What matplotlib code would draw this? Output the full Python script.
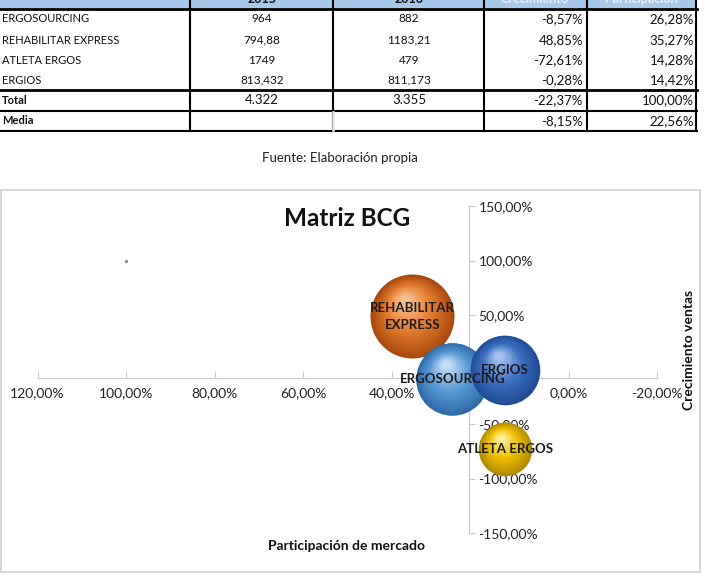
import numpy as np
import matplotlib
matplotlib.use("Agg")
import matplotlib.pyplot as plt
from matplotlib.lines import Line2D
from matplotlib.patches import Rectangle
from matplotlib.transforms import offset_copy
from matplotlib.colors import to_rgb

plt.rcParams['font.family'] = ['Lato', 'DejaVu Sans']

# table data
names = ["ERGOSOURCING", "REHABILITAR EXPRESS", "ATLETA ERGOS", "ERGIOS"]
ventas_2015 = ["964", "794,88", "1749", "813,432"]
ventas_2016 = ["882", "1183,21", "479", "811,173"]
crecimiento_txt = ["-8,57%", "48,85%", "-72,61%", "-0,28%"]
participacion_txt = ["26,28%", "35,27%", "14,28%", "14,42%"]
total_row = ["Total", "4.322", "3.355", "-22,37%", "100,00%"]
media_row = ["Media", "", "", "-8,15%", "22,56%"]
headers = ["", "2015", "2016", "Crecimiento", "Participación"]

# chart data (values in %)
labels = ["ERGOSOURCING", "REHABILITAR\nEXPRESS", "ATLETA ERGOS", "ERGIOS"]
participacion = [26.28, 35.27, 14.28, 14.42]
crecimiento = [-8.57, 48.85, -72.61, -0.28]
ventas16 = [882, 1183.21, 479, 811.173]
media_part = 22.56
media_crec = -8.15
stray_point = (100, 100)

# colors: (dark, base, light)
bubble_cols = [
    ("#2f6aa8", "#5b9bd5", "#c4ddf4"),
    ("#a8480c", "#e67d30", "#f9c08e"),
    ("#b08a00", "#f0c000", "#fff1a0"),
    ("#1f4c95", "#3f72c4", "#a9c4ee"),
]

W, H = 705, 580
fig = plt.figure(figsize=(W / 100, H / 100), dpi=100)


def fx(x):
    return x / W


def fy(y):
    return 1 - y / H


# ---- table ----
col_edges = [0, 190, 333, 484, 587, 696]
fig.patches.append(Rectangle((fx(0), fy(8)), fx(696), 8 / H + 0.02,
                             transform=fig.transFigure, facecolor="#a6c8ea",
                             edgecolor="none", zorder=-2))
row_y = [19, 40, 60, 80]
txt = dict(va="center", color="#111")
for i in range(4):
    y = fy(row_y[i])
    fig.text(fx(2), y, names[i], fontsize=8, ha="left", **txt)
    fig.text(fx(262), y, ventas_2015[i], fontsize=8.5, ha="center", **txt)
    fig.text(fx(409), y, ventas_2016[i], fontsize=8.5, ha="center", **txt)
    fig.text(fx(583), y, crecimiento_txt[i], fontsize=9.5, ha="right", **txt)
    fig.text(fx(694), y, participacion_txt[i], fontsize=9.5, ha="right", **txt)

for row, yy in [(total_row, 100), (media_row, 121)]:
    y = fy(yy)
    fig.text(fx(2), y, row[0], fontsize=8, fontweight="bold", ha="left", **txt)
    fig.text(fx(262), y, row[1], fontsize=9.5, ha="center", **txt)
    fig.text(fx(409), y, row[2], fontsize=9.5, ha="center", **txt)
    fig.text(fx(583), y, row[3], fontsize=9.5, ha="right", **txt)
    fig.text(fx(694), y, row[4], fontsize=9.5, ha="right", **txt)

hdr_cols = ["#111", "#111", "#111", "#e9eff8", "#e9eff8"]
hdr_x = [95, 262, 409, 535, 641]
for i, h in enumerate(headers):
    fig.text(fx(hdr_x[i]), fy(-1), h, fontsize=9, fontweight="bold",
             va="center", ha="center", color=hdr_cols[i])


def hline(x0, x1, y, lw=1.5, c="black"):
    fig.add_artist(Line2D([fx(x0), fx(x1)], [fy(y), fy(y)], lw=lw, color=c,
                          transform=fig.transFigure))


def vline(x, y0, y1, lw=1.5, c="black"):
    fig.add_artist(Line2D([fx(x), fx(x)], [fy(y0), fy(y1)], lw=lw, color=c,
                          transform=fig.transFigure))


hline(0, 697, 8.5, lw=2)
hline(0, 697, 89.5, lw=2)
hline(0, 697, 110.5, lw=1.5)
hline(0, 697, 131, lw=1.5)
for x in col_edges[1:]:
    vline(x, 0, 131, lw=1.5)
vline(333, 111.5, 130, lw=1.8, c="#e6e6e6")

fig.text(fx(340), fy(158), "Fuente: Elaboración propia", fontsize=9.5,
         ha="center", va="center", color="#222")

# chart frame
fig.patches.append(Rectangle((fx(1), fy(572)), fx(699), (572 - 190) / H,
                             transform=fig.transFigure, facecolor="white",
                             edgecolor="#d0d0d0", lw=1.2, zorder=-1))

# ---- chart ----
ax = fig.add_axes([fx(37.5), fy(533), fx(657) - fx(37.5), fy(206) - fy(533)])
ax.set_zorder(2)
ax.set_facecolor("none")
ax.set_xlim(120, -20)
ax.set_ylim(-150, 150)

for s in ["top", "left"]:
    ax.spines[s].set_visible(False)
ax.spines["right"].set_position(("data", media_part))
ax.spines["bottom"].set_position(("data", media_crec))
ax.spines["right"].set_color("#c8c8c8")
ax.spines["bottom"].set_color("#c8c8c8")
ax.yaxis.tick_right()
ax.set_xticks(np.arange(120, -21, -20))
ax.set_yticks([-150, -100, -50, 50, 100, 150])
ax.set_xticklabels([f"{v:.2f}%".replace(".", ",") for v in ax.get_xticks()])
ax.set_yticklabels([f"{v:.2f}%".replace(".", ",") for v in ax.get_yticks()])
ax.tick_params(axis="x", direction="in", length=5, color="#c8c8c8",
               labelsize=10, labelcolor="#222", pad=6)
ax.tick_params(axis="y", direction="out", length=4, color="#c8c8c8",
               labelsize=10, labelcolor="#222", pad=3)


def blend(c1, c2, t):
    a, b = np.array(to_rgb(c1)), np.array(to_rgb(c2))
    return tuple(a + (b - a) * t)


max_r_pt = 42 * 0.72  # radius of largest bubble in points
order = [1, 0, 3, 2]
for k, i in enumerate(order):
    r_pt = max_r_pt * np.sqrt(ventas16[i] / max(ventas16))
    dark, base, light = bubble_cols[i]
    n = 30
    for j in range(n):
        t = j / (n - 1)
        rr = r_pt * (1 - 0.9 * t)
        if t < 0.5:
            col = blend(dark, base, t / 0.5)
        else:
            col = blend(base, light, (t - 0.5) / 0.5)
        tr = offset_copy(ax.transData, fig=fig, x=-0.18 * r_pt * t,
                         y=0.4 * r_pt * t, units="points")
        ax.scatter([participacion[i]], [crecimiento[i]], s=(2 * rr) ** 2,
                   color=col, transform=tr, zorder=3 + k, linewidths=0,
                   clip_on=False)

for i in range(4):
    ax.text(participacion[i], crecimiento[i], labels[i], fontsize=9.5,
            fontweight="bold", ha="center", va="center", color="#1a1a1a",
            zorder=10, linespacing=1.5)

ax.scatter([stray_point[0]], [stray_point[1]], s=2, color="#888888", zorder=3)

fig.text(fx(347), fy(218), "Matriz BCG", fontsize=17.5, fontweight="bold",
         ha="center", va="center", color="#111")
fig.text(fx(347), fy(546), "Participación de mercado", fontsize=10,
         fontweight="bold", ha="center", va="center", color="#111")
fig.text(fx(689), fy(350), "Crecimiento ventas", fontsize=10,
         fontweight="bold", ha="center", va="center", rotation=90, color="#111")

fig.savefig("out.png", dpi=100)
